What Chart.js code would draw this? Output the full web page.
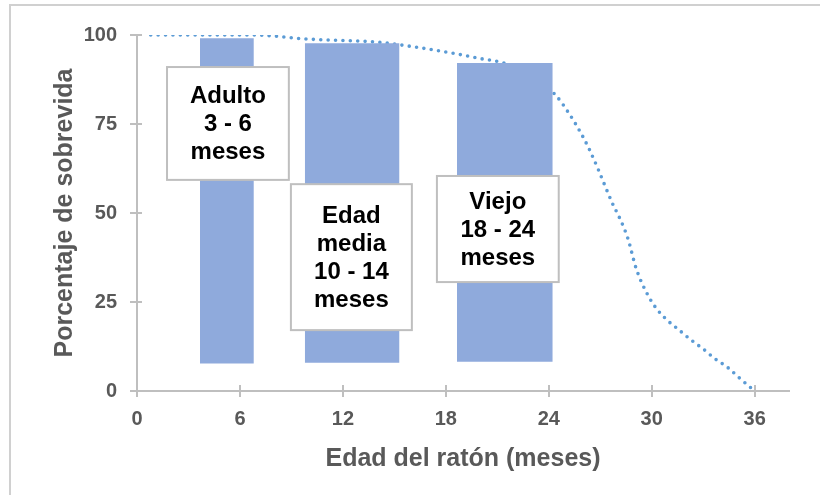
<!DOCTYPE html>
<html>
<head>
<meta charset="utf-8">
<script src="https://cdn.jsdelivr.net/npm/chart.js@4.4.1/dist/chart.umd.min.js"></script>
<style>
  html, body { margin: 0; padding: 0; background: #ffffff; }
  canvas { display: block; }
</style>
</head>
<body>
<canvas id="c" width="820" height="495"></canvas>
<script>
// ---------- data ----------
const xTicks = [0, 6, 12, 18, 24, 30, 36];
const yTicks = [0, 25, 50, 75, 100];
const xTitle = 'Edad del ratón (meses)';
const yTitle = 'Porcentaje de sobrevida';

// survival curve: age (months) and survival (%)
const curveAge  = [0.8, 6.8, 9.8, 14.2, 16.1, 18.4, 20.1, 21.4, 23.0, 24.4, 25.2, 25.9, 26.3, 26.85, 27.7, 28.1, 28.6, 29.1, 29.8, 30.3, 30.9, 31.6, 32.3, 33.0, 33.7, 34.4, 35.1, 36];
const curveSurv = [100, 100, 98.9, 97.9, 96.7, 94.9, 93.3, 92.1, 88.5, 83.1, 77.8, 72.2, 68.5, 62.6, 52.8, 48.9, 43.0, 34.3, 26.7, 23.0, 19.9, 17.1, 14.3, 11.8, 9.0, 6.7, 3.7, 0];

// age-group bars: start / end month, top / bottom %
const groupStart  = [3.67, 9.78, 18.65];
const groupEnd    = [6.81, 15.3, 24.23];
const groupTop    = [99.1, 97.7, 92.1];
const groupBottom = [7.7, 7.95, 8.2];

// label boxes (text lines)
const boxLines = [
  ['Adulto', '3 - 6', 'meses'],
  ['Edad', 'media', '10 - 14', 'meses'],
  ['Viejo', '18 - 24', 'meses']
];
// label box extents in data units (months / %)
const boxLeft   = [1.75, 8.97, 17.48];
const boxRight  = [8.85, 16.02, 24.58];
const boxTop    = [91.0, 58.1, 60.4];
const boxBottom = [59.3, 17.1, 30.6];

// ---------- styling ----------
const FONT = '"Liberation Sans", Arial, Helvetica, sans-serif';
const AXIS = '#bfbfbf';
const TEXT = '#595959';
const BAR = '#8faadc';
const LINE = '#5b9bd5';

const datasets = [];
groupStart.forEach((s, i) => {
  datasets.push({
    data: [{x: s, y: groupTop[i]}, {x: groupEnd[i], y: groupTop[i]}],
    borderColor: 'rgba(0,0,0,0)', borderWidth: 0, pointRadius: 0,
    backgroundColor: BAR, fill: '+1', tension: 0, order: 0
  });
  datasets.push({
    data: [{x: s, y: groupBottom[i]}, {x: groupEnd[i], y: groupBottom[i]}],
    borderColor: 'rgba(0,0,0,0)', borderWidth: 0, pointRadius: 0,
    backgroundColor: BAR, fill: false, tension: 0, order: 0
  });
});
datasets.push({
  data: curveAge.map((a, i) => ({x: a, y: curveSurv[i]})),
  borderColor: LINE, borderWidth: 3.6, borderDash: [0, 7.4], borderCapStyle: 'round',
  pointRadius: 0, fill: false, cubicInterpolationMode: 'monotone', order: 5
});

const decor = {
  id: 'decor',
  beforeDraw(chart) {
    const ctx = chart.ctx;
    ctx.save();
    ctx.fillStyle = '#ffffff';
    ctx.fillRect(0, 0, chart.width, chart.height);
    ctx.strokeStyle = '#d0d0d0';
    ctx.lineWidth = 2;
    ctx.beginPath();
    ctx.moveTo(10, chart.height + 2);
    ctx.lineTo(10, 5);
    ctx.lineTo(chart.width + 2, 5);
    ctx.stroke();
    ctx.restore();
  },
  afterDraw(chart) {
    const {ctx, chartArea, scales: {x, y}} = chart;
    ctx.save();
    // tick marks crossing the axes
    ctx.strokeStyle = AXIS;
    ctx.lineWidth = 2;
    ctx.beginPath();
    xTicks.forEach(v => {
      const px = Math.round(x.getPixelForValue(v));
      ctx.moveTo(px, chartArea.bottom - 6);
      ctx.lineTo(px, chartArea.bottom + 6);
    });
    yTicks.forEach(v => {
      const py = Math.round(y.getPixelForValue(v));
      ctx.moveTo(chartArea.left - 7, py);
      ctx.lineTo(chartArea.left + 5, py);
    });
    ctx.stroke();
    // label boxes
    boxLines.forEach((lines, i) => {
      const l = x.getPixelForValue(boxLeft[i]);
      const r = x.getPixelForValue(boxRight[i]);
      const t = y.getPixelForValue(boxTop[i]);
      const b = y.getPixelForValue(boxBottom[i]);
      ctx.fillStyle = '#ffffff';
      ctx.fillRect(l, t, r - l, b - t);
      ctx.strokeStyle = AXIS;
      ctx.lineWidth = 2;
      ctx.strokeRect(l, t, r - l, b - t);
      ctx.fillStyle = '#000000';
      ctx.font = 'bold 24px ' + FONT;
      ctx.textAlign = 'center';
      ctx.textBaseline = 'middle';
      const lh = 28;
      const cx = (l + r) / 2, cy = (t + b) / 2;
      lines.forEach((txt, k) => {
        ctx.fillText(txt, cx, cy + (k - (lines.length - 1) / 2) * lh + 1);
      });
    });
    ctx.restore();
  }
};

new Chart(document.getElementById('c'), {
  type: 'line',
  data: { datasets },
  options: {
    responsive: false,
    animation: false,
    layout: { padding: { top: 35, right: 31, left: 0, bottom: 0 } },
    plugins: { legend: { display: false }, tooltip: { enabled: false } },
    scales: {
      x: {
        type: 'linear', min: 0, max: 38,
        afterBuildTicks: s => { s.ticks = xTicks.map(v => ({value: v})); },
        afterFit: s => { s.height = 104; },
        grid: { display: false, drawTicks: false },
        border: { display: true, color: AXIS, width: 2 },
        ticks: { padding: 16, color: TEXT, font: { family: FONT, size: 20, weight: 'bold' }, maxRotation: 0 },
        title: { display: true, text: xTitle, color: TEXT, padding: 21, font: { family: FONT, size: 25, weight: 'bold' } }
      },
      y: {
        type: 'linear', min: 0, max: 100,
        afterBuildTicks: s => { s.ticks = yTicks.map(v => ({value: v})); },
        afterFit: s => { s.width = 137; },
        grid: { display: false, drawTicks: false },
        border: { display: true, color: AXIS, width: 2 },
        ticks: { padding: 20, color: TEXT, font: { family: FONT, size: 20, weight: 'bold' } },
        title: { display: true, text: yTitle, color: TEXT, padding: 50, font: { family: FONT, size: 25, weight: 'bold' } }
      }
    }
  },
  plugins: [decor]
});
</script>
</body>
</html>
